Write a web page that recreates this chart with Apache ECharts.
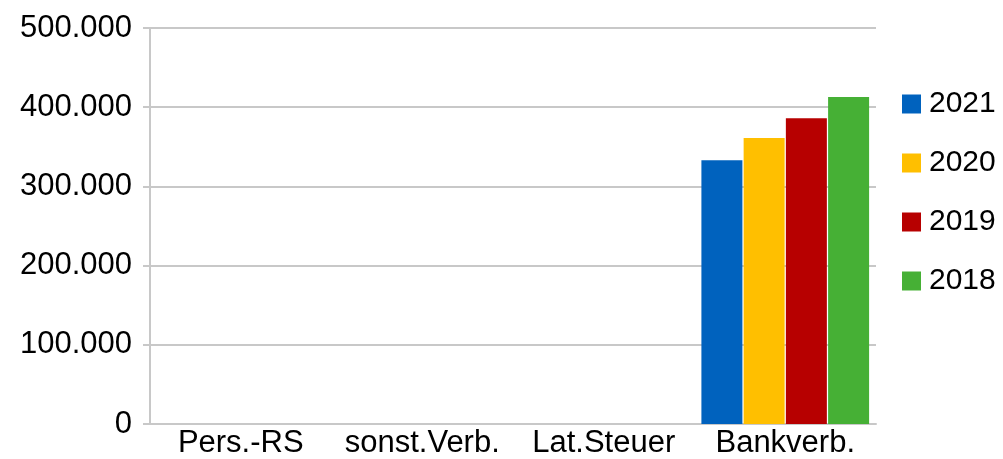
<!DOCTYPE html>
<html>
<head>
<meta charset="utf-8">
<script src="https://cdn.jsdelivr.net/npm/echarts@6/dist/echarts.min.js"></script>
<style>
  html, body { margin: 0; padding: 0; background: #fff; }
  #chart { width: 1003px; height: 459px; }
</style>
</head>
<body>
<div id="chart"></div>
<script>
const categories = ["Pers.-RS", "sonst.Verb.", "Lat.Steuer", "Bankverb."];
const years = ["2021", "2020", "2019", "2018"];
const values2021 = [0, 0, 0, 333000];
const values2020 = [0, 0, 0, 361000];
const values2019 = [0, 0, 0, 386000];
const values2018 = [0, 0, 0, 413000];
const colors = ["#0062be", "#ffbf00", "#b70000", "#46b035"];

const seriesValues = [values2021, values2020, values2019, values2018];
const font = "'Liberation Sans', Arial, sans-serif";
const gray = "#c8c8c8";

// Tausenderpunkt wie im Original
function formatDe(v) {
  return String(v).replace(/\B(?=(\d{3})+(?!\d))/g, ".");
}

const chart = echarts.init(document.getElementById("chart"));
chart.setOption({
  animation: false,
  color: colors,
  grid: { left: 150, right: 127, top: 28, bottom: 34, containLabel: false },
  legend: {
    orient: "vertical",
    left: 897,
    top: 84,
    itemWidth: 19,
    itemHeight: 19,
    itemGap: 29,
    icon: "rect",
    data: years,
    textStyle: { fontFamily: font, fontSize: 30, color: "#000", padding: [0, 0, 0, 3] },
  },
  xAxis: {
    type: "category",
    data: categories,
    axisLine: { show: true, lineStyle: { color: gray, width: 2 } },
    axisTick: { show: false },
    axisLabel: { fontFamily: font, fontSize: 31, color: "#000", margin: 4, interval: 0 },
  },
  yAxis: {
    type: "value",
    min: 0,
    max: 500000,
    interval: 100000,
    axisLine: { show: true, lineStyle: { color: gray, width: 2 } },
    axisTick: { show: true, length: 7, lineStyle: { color: gray, width: 2 } },
    splitLine: { show: true, lineStyle: { color: gray, width: 2 } },
    axisLabel: {
      fontFamily: font,
      fontSize: 31,
      color: "#000",
      margin: 18,
      formatter: formatDe,
    },
  },
  series: years.map((y, i) => ({
    name: y,
    type: "bar",
    data: seriesValues[i],
    barWidth: 41,
    barGap: "3%",
  })),
});
</script>
</body>
</html>
